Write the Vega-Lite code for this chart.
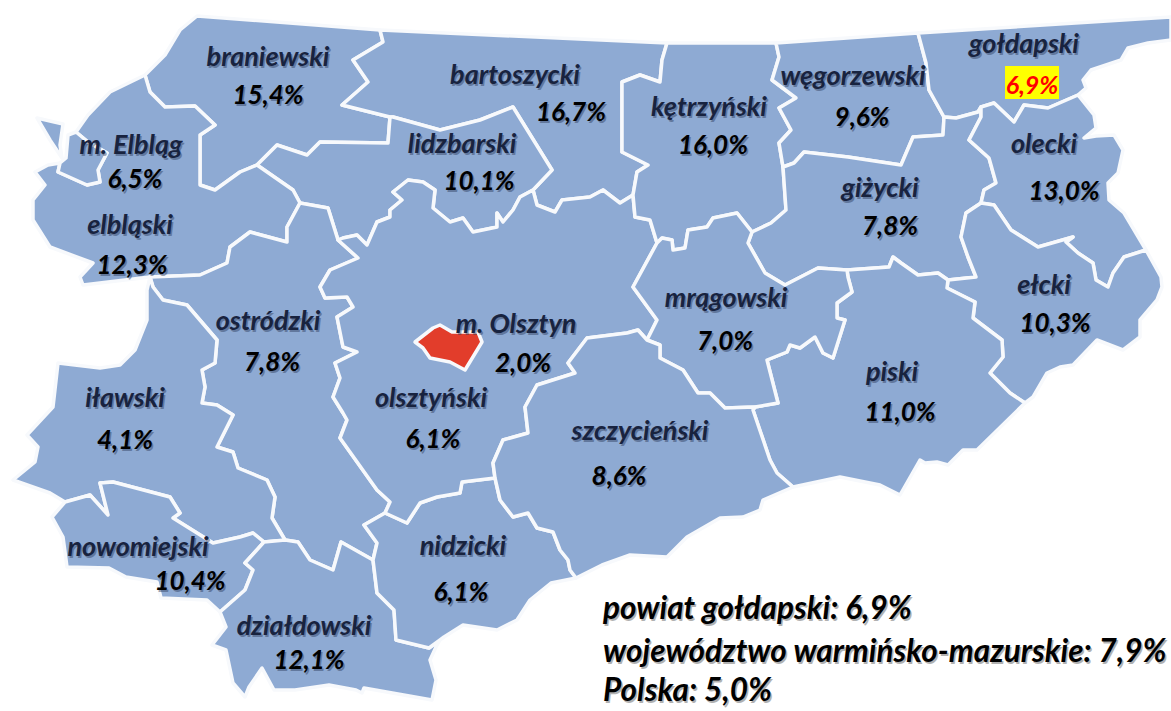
{"$schema":"https://vega.github.io/schema/vega-lite/v6.json","width":1171,"height":711,"padding":0,"autosize":"none","background":"white","view":{"stroke":null},
"projection":{"type":"identity","scale":1,"translate":[0,0]},
"datasets":{
"counties":[
{"type":"Feature","properties":{"name":"braniewski","kind":"county"},"geometry":{"type":"Polygon","coordinates":[[[197,16],[380,30],[383,42],[353,60],[368,82],[342,105],[390,117],[388,143],[320,142],[307,155],[277,145],[257,165],[240,172],[215,190],[200,185],[200,135],[215,125],[195,106],[165,107],[150,92],[145,75],[165,55],[180,30],[197,16]]]}},
{"type":"Feature","properties":{"name":"bartoszycki","kind":"county"},"geometry":{"type":"Polygon","coordinates":[[[380,30],[667,43],[662,60],[660,82],[640,75],[622,82],[622,152],[648,165],[637,172],[633,195],[620,203],[603,190],[590,197],[562,200],[555,212],[537,205],[533,190],[552,170],[513,107],[480,120],[440,130],[393,117],[390,117],[342,105],[368,82],[353,60],[383,42],[380,30]]]}},
{"type":"Feature","properties":{"name":"lidzbarski","kind":"county"},"geometry":{"type":"Polygon","coordinates":[[[390,117],[393,117],[440,130],[480,120],[513,107],[552,170],[533,190],[520,197],[513,210],[503,222],[497,213],[497,227],[473,232],[463,218],[450,222],[433,208],[435,190],[423,182],[408,180],[393,192],[402,200],[390,210],[390,217],[377,222],[367,245],[357,235],[343,238],[338,240],[328,208],[300,203],[293,190],[257,165],[277,145],[307,155],[320,142],[388,143],[390,117]]]}},
{"type":"Feature","properties":{"name":"elbląski","kind":"county"},"geometry":{"type":"MultiPolygon","coordinates":[[[[145,75],[150,92],[165,107],[195,106],[215,125],[200,135],[200,185],[215,190],[240,172],[257,165],[293,190],[300,203],[287,227],[287,242],[250,232],[230,247],[227,263],[200,275],[150,277],[83,285],[80,277],[93,263],[50,247],[33,220],[33,200],[45,185],[35,172],[48,165],[60,163],[58,172],[87,185],[100,182],[98,170],[107,153],[88,142],[76,132],[88,115],[110,92],[145,75]]],[[[37,118],[63,124],[60,145],[62,158],[50,140],[37,118]]]]}},
{"type":"Feature","properties":{"name":"m. Elbląg","kind":"county"},"geometry":{"type":"Polygon","coordinates":[[[60,163],[66,158],[68,135],[76,132],[88,142],[107,153],[98,170],[100,182],[87,185],[58,172],[60,163]]]}},
{"type":"Feature","properties":{"name":"ostródzki","kind":"county"},"geometry":{"type":"Polygon","coordinates":[[[150,277],[200,275],[227,263],[230,247],[250,232],[287,242],[287,227],[300,203],[328,208],[338,240],[358,258],[330,270],[320,287],[325,298],[347,297],[353,307],[337,317],[343,347],[357,352],[335,363],[340,378],[333,397],[343,413],[347,420],[340,438],[377,490],[390,502],[385,513],[364,525],[377,543],[373,560],[341,542],[333,570],[310,560],[298,542],[285,540],[272,518],[275,497],[267,480],[238,468],[233,452],[217,447],[233,415],[217,405],[202,403],[205,387],[202,370],[215,363],[217,340],[187,305],[163,300],[153,287],[150,277]]]}},
{"type":"Feature","properties":{"name":"iławski","kind":"county"},"geometry":{"type":"Polygon","coordinates":[[[150,277],[153,287],[163,300],[187,305],[217,340],[215,363],[202,370],[205,387],[202,403],[217,405],[233,415],[217,447],[233,452],[238,468],[267,480],[275,497],[272,518],[285,540],[264,542],[253,533],[240,537],[213,543],[197,533],[173,518],[180,513],[170,497],[113,482],[100,483],[108,515],[90,495],[65,502],[50,493],[13,480],[35,462],[38,447],[27,435],[53,407],[58,363],[100,368],[120,365],[135,350],[147,320],[147,290],[150,277]]]}},
{"type":"Feature","properties":{"name":"nowomiejski","kind":"county"},"geometry":{"type":"Polygon","coordinates":[[[65,502],[90,495],[108,515],[100,483],[113,482],[170,497],[180,513],[173,518],[197,533],[213,543],[240,537],[253,533],[264,542],[245,563],[253,570],[245,590],[220,612],[207,600],[161,598],[157,582],[126,577],[109,568],[67,567],[63,537],[52,517],[65,502]]]}},
{"type":"Feature","properties":{"name":"działdowski","kind":"county"},"geometry":{"type":"Polygon","coordinates":[[[264,542],[285,540],[298,542],[310,560],[333,570],[341,542],[373,560],[377,593],[394,610],[396,640],[429,648],[440,640],[436,647],[430,660],[436,680],[432,700],[364,688],[362,693],[356,690],[329,685],[295,690],[274,690],[262,668],[249,687],[245,697],[233,683],[226,650],[212,645],[226,627],[220,612],[245,590],[253,570],[245,563],[264,542]]]}},
{"type":"Feature","properties":{"name":"nidzicki","kind":"county"},"geometry":{"type":"Polygon","coordinates":[[[385,513],[407,523],[420,503],[437,497],[460,493],[462,482],[495,478],[500,500],[513,517],[528,513],[537,528],[553,532],[560,550],[568,560],[570,570],[576,578],[551,583],[530,600],[517,620],[497,630],[463,625],[444,637],[440,640],[429,648],[396,640],[394,610],[377,593],[373,560],[377,543],[364,525],[385,513]]]}},
{"type":"Feature","properties":{"name":"olsztyński","kind":"county"},"geometry":{"type":"Polygon","coordinates":[[[338,240],[343,238],[357,235],[367,245],[377,222],[390,217],[390,210],[402,200],[393,192],[408,180],[423,182],[435,190],[433,208],[450,222],[463,218],[473,232],[497,227],[497,213],[503,222],[513,210],[520,197],[533,190],[537,205],[555,212],[562,200],[590,197],[603,190],[620,203],[633,195],[635,217],[650,220],[657,243],[633,287],[657,320],[647,340],[638,330],[627,333],[587,338],[568,363],[575,373],[537,385],[525,407],[528,433],[503,440],[493,463],[495,478],[462,482],[460,493],[437,497],[420,503],[407,523],[385,513],[390,502],[377,490],[340,438],[347,420],[343,413],[333,397],[340,378],[335,363],[357,352],[343,347],[337,317],[353,307],[347,297],[325,298],[320,287],[330,270],[358,258],[338,240]]]}},
{"type":"Feature","properties":{"name":"kętrzyński","kind":"county"},"geometry":{"type":"Polygon","coordinates":[[[667,43],[776,43],[779,57],[772,80],[796,98],[779,108],[791,130],[779,143],[783,167],[786,210],[771,223],[752,232],[737,213],[713,218],[707,227],[688,230],[685,248],[673,250],[672,240],[662,238],[657,243],[650,220],[635,217],[633,195],[637,172],[648,165],[622,152],[622,82],[640,75],[660,82],[662,60],[667,43]]]}},
{"type":"Feature","properties":{"name":"węgorzewski","kind":"county"},"geometry":{"type":"Polygon","coordinates":[[[776,43],[918,33],[926,63],[929,90],[944,117],[943,135],[913,137],[901,165],[848,157],[804,152],[794,163],[783,167],[779,143],[791,130],[779,108],[796,98],[772,80],[779,57],[776,43]]]}},
{"type":"Feature","properties":{"name":"gołdapski","kind":"county"},"geometry":{"type":"Polygon","coordinates":[[[918,33],[1171,17],[1171,40],[1148,43],[1128,48],[1121,60],[1091,70],[1083,80],[1086,88],[1078,95],[1048,108],[1024,105],[1014,122],[994,103],[981,107],[978,112],[956,118],[944,117],[929,90],[926,63],[918,33]]]}},
{"type":"Feature","properties":{"name":"giżycki","kind":"county"},"geometry":{"type":"Polygon","coordinates":[[[783,167],[794,163],[804,152],[848,157],[901,165],[913,137],[943,135],[944,117],[956,118],[978,112],[981,107],[981,117],[969,140],[989,158],[996,183],[984,190],[981,203],[966,213],[961,237],[968,257],[976,277],[948,280],[938,273],[918,275],[901,263],[893,257],[889,267],[847,270],[818,268],[785,285],[765,273],[748,243],[752,232],[771,223],[786,210],[783,167]]]}},
{"type":"Feature","properties":{"name":"olecki","kind":"county"},"geometry":{"type":"Polygon","coordinates":[[[981,107],[994,103],[1014,122],[1024,105],[1048,108],[1078,95],[1094,115],[1096,128],[1084,138],[1096,136],[1114,135],[1123,150],[1118,173],[1108,183],[1109,200],[1124,213],[1146,250],[1124,257],[1113,273],[1108,287],[1096,280],[1093,263],[1078,253],[1066,242],[1073,237],[1038,247],[1011,230],[994,205],[981,203],[984,190],[996,183],[989,158],[969,140],[981,117],[981,107]]]}},
{"type":"Feature","properties":{"name":"ełcki","kind":"county"},"geometry":{"type":"Polygon","coordinates":[[[981,203],[994,205],[1011,230],[1038,247],[1073,237],[1066,242],[1078,253],[1093,263],[1096,280],[1108,287],[1113,273],[1124,257],[1146,250],[1161,277],[1162,287],[1157,300],[1140,320],[1140,337],[1123,350],[1097,340],[1073,365],[1060,367],[1047,373],[1033,397],[1025,403],[1010,393],[990,373],[1003,357],[1002,340],[973,318],[975,302],[947,288],[948,280],[976,277],[968,257],[961,237],[966,213],[981,203]]]}},
{"type":"Feature","properties":{"name":"piski","kind":"county"},"geometry":{"type":"Polygon","coordinates":[[[847,270],[889,267],[893,257],[901,263],[918,275],[938,273],[948,280],[947,288],[975,302],[973,318],[1002,340],[1003,357],[990,373],[1010,393],[1025,403],[977,450],[963,450],[948,465],[937,462],[925,463],[920,460],[900,495],[880,485],[840,477],[793,487],[777,473],[770,460],[753,410],[755,407],[778,403],[767,360],[787,352],[790,345],[800,348],[815,337],[823,353],[833,358],[845,320],[837,318],[837,303],[852,292],[848,277],[847,270]]]}},
{"type":"Feature","properties":{"name":"mrągowski","kind":"county"},"geometry":{"type":"Polygon","coordinates":[[[657,243],[662,238],[672,240],[673,250],[685,248],[688,230],[707,227],[713,218],[737,213],[752,232],[748,243],[765,273],[785,285],[818,268],[847,270],[848,277],[852,292],[837,303],[837,318],[845,320],[833,358],[823,353],[815,337],[800,348],[790,345],[787,352],[767,360],[778,403],[755,407],[725,408],[710,393],[698,393],[683,370],[660,358],[660,345],[647,340],[657,320],[633,287],[657,243]]]}},
{"type":"Feature","properties":{"name":"szczycieński","kind":"county"},"geometry":{"type":"Polygon","coordinates":[[[647,340],[660,345],[660,358],[683,370],[698,393],[710,393],[725,408],[755,407],[753,410],[770,460],[777,473],[793,487],[763,500],[760,510],[743,517],[720,518],[687,537],[667,557],[630,555],[602,565],[582,575],[576,578],[570,570],[568,560],[560,550],[553,532],[537,528],[528,513],[513,517],[500,500],[495,478],[493,463],[503,440],[528,433],[525,407],[537,385],[575,373],[568,363],[587,338],[627,333],[638,330],[647,340]]]}},
{"type":"Feature","properties":{"name":"m. Olsztyn","kind":"city"},"geometry":{"type":"Polygon","coordinates":[[[415,342],[433,328],[440,325],[452,332],[478,332],[482,342],[465,370],[450,362],[430,358],[423,348],[415,342]]]}}
],
"box":[{"type":"Feature","properties":{"name":"gołdapski 6,9%"},"geometry":{"type":"Polygon","coordinates":[[[1005,66],[1059,66],[1059,99],[1005,99],[1005,66]]]}}],
"labels":[
{"lon":268,"lat":58,"label":"braniewski","kind":"name"},{"lon":268,"lat":96,"label":"15,4%","kind":"value"},
{"lon":515,"lat":76,"label":"bartoszycki","kind":"name"},{"lon":571,"lat":113,"label":"16,7%","kind":"value"},
{"lon":462,"lat":145,"label":"lidzbarski","kind":"name"},{"lon":479,"lat":182,"label":"10,1%","kind":"value"},
{"lon":131,"lat":146,"label":"m. Elbląg","kind":"name"},{"lon":135,"lat":180,"label":"6,5%","kind":"value"},
{"lon":130,"lat":226,"label":"elbląski","kind":"name"},{"lon":132,"lat":266,"label":"12,3%","kind":"value"},
{"lon":709,"lat":108,"label":"kętrzyński","kind":"name"},{"lon":713,"lat":146,"label":"16,0%","kind":"value"},
{"lon":853,"lat":77,"label":"węgorzewski","kind":"name"},{"lon":862,"lat":118,"label":"9,6%","kind":"value"},
{"lon":1024,"lat":45,"label":"gołdapski","kind":"name"},{"lon":1032,"lat":86,"label":"6,9%","kind":"focus"},
{"lon":1044,"lat":145,"label":"olecki","kind":"name"},{"lon":1064,"lat":192,"label":"13,0%","kind":"value"},
{"lon":880,"lat":189,"label":"giżycki","kind":"name"},{"lon":890,"lat":227,"label":"7,8%","kind":"value"},
{"lon":1044,"lat":286,"label":"ełcki","kind":"name"},{"lon":1055,"lat":324,"label":"10,3%","kind":"value"},
{"lon":726,"lat":299,"label":"mrągowski","kind":"name"},{"lon":725,"lat":342,"label":"7,0%","kind":"value"},
{"lon":892,"lat":373,"label":"piski","kind":"name"},{"lon":900,"lat":413,"label":"11,0%","kind":"value"},
{"lon":516,"lat":325,"label":"m. Olsztyn","kind":"name"},{"lon":523,"lat":364,"label":"2,0%","kind":"value"},
{"lon":431,"lat":399,"label":"olsztyński","kind":"name"},{"lon":433,"lat":440,"label":"6,1%","kind":"value"},
{"lon":268,"lat":322,"label":"ostródzki","kind":"name"},{"lon":272,"lat":363,"label":"7,8%","kind":"value"},
{"lon":125,"lat":399,"label":"iławski","kind":"name"},{"lon":125,"lat":441,"label":"4,1%","kind":"value"},
{"lon":640,"lat":432,"label":"szczycieński","kind":"name"},{"lon":619,"lat":477,"label":"8,6%","kind":"value"},
{"lon":138,"lat":548,"label":"nowomiejski","kind":"name"},{"lon":190,"lat":582,"label":"10,4%","kind":"value"},
{"lon":463,"lat":547,"label":"nidzicki","kind":"name"},{"lon":461,"lat":593,"label":"6,1%","kind":"value"},
{"lon":304,"lat":627,"label":"działdowski","kind":"name"},{"lon":309,"lat":661,"label":"12,1%","kind":"value"}
],
"notes":[
{"lon":603,"lat":610,"label":"powiat gołdapski: 6,9%"},
{"lon":603,"lat":653,"label":"województwo warmińsko-mazurskie: 7,9%"},
{"lon":603,"lat":692,"label":"Polska: 5,0%"}
]},
"layer":[
{"data":{"name":"counties"},"mark":{"type":"geoshape","stroke":"#f7f9fc","strokeWidth":3.5,"strokeJoin":"round"},
 "encoding":{"fill":{"field":"properties.kind","type":"nominal","scale":{"domain":["county","city"],"range":["#8eaad3","#e23d2b"]},"legend":null}}},
{"data":{"name":"box"},"mark":{"type":"geoshape","fill":"#ffff00","stroke":null}},
{"data":{"name":"labels"},"transform":[{"filter":"datum.kind != 'focus'"}],"mark":{"type":"text","font":"Lato","fontStyle":"italic","fontWeight":"bold","dx":1.5,"dy":2,"align":"center","baseline":"middle","color":"#2f3d5c","opacity":0.45},
 "encoding":{"longitude":{"field":"lon","type":"quantitative"},"latitude":{"field":"lat","type":"quantitative"},"text":{"field":"label"},
 "size":{"field":"kind","type":"nominal","scale":{"domain":["name","value","focus"],"range":[27,25,25]},"legend":null}}},
{"data":{"name":"labels"},"mark":{"type":"text","font":"Lato","fontStyle":"italic","fontWeight":"bold","align":"center","baseline":"middle"},
 "encoding":{"longitude":{"field":"lon","type":"quantitative"},"latitude":{"field":"lat","type":"quantitative"},"text":{"field":"label"},
 "size":{"field":"kind","type":"nominal","scale":{"domain":["name","value","focus"],"range":[27,25,25]},"legend":null},
 "color":{"field":"kind","type":"nominal","scale":{"domain":["name","value","focus"],"range":["#18233f","#000000","#ff0000"]},"legend":null}}},
{"data":{"name":"notes"},"mark":{"type":"text","font":"Lato","fontStyle":"italic","fontWeight":"bold","fontSize":31.5,"dx":1.5,"dy":2,"align":"left","baseline":"middle","color":"#000000","opacity":0.3},
 "encoding":{"longitude":{"field":"lon","type":"quantitative"},"latitude":{"field":"lat","type":"quantitative"},"text":{"field":"label"}}},
{"data":{"name":"notes"},"mark":{"type":"text","font":"Lato","fontStyle":"italic","fontWeight":"bold","fontSize":31.5,"align":"left","baseline":"middle","color":"#000000"},
 "encoding":{"longitude":{"field":"lon","type":"quantitative"},"latitude":{"field":"lat","type":"quantitative"},"text":{"field":"label"}}}
]}
